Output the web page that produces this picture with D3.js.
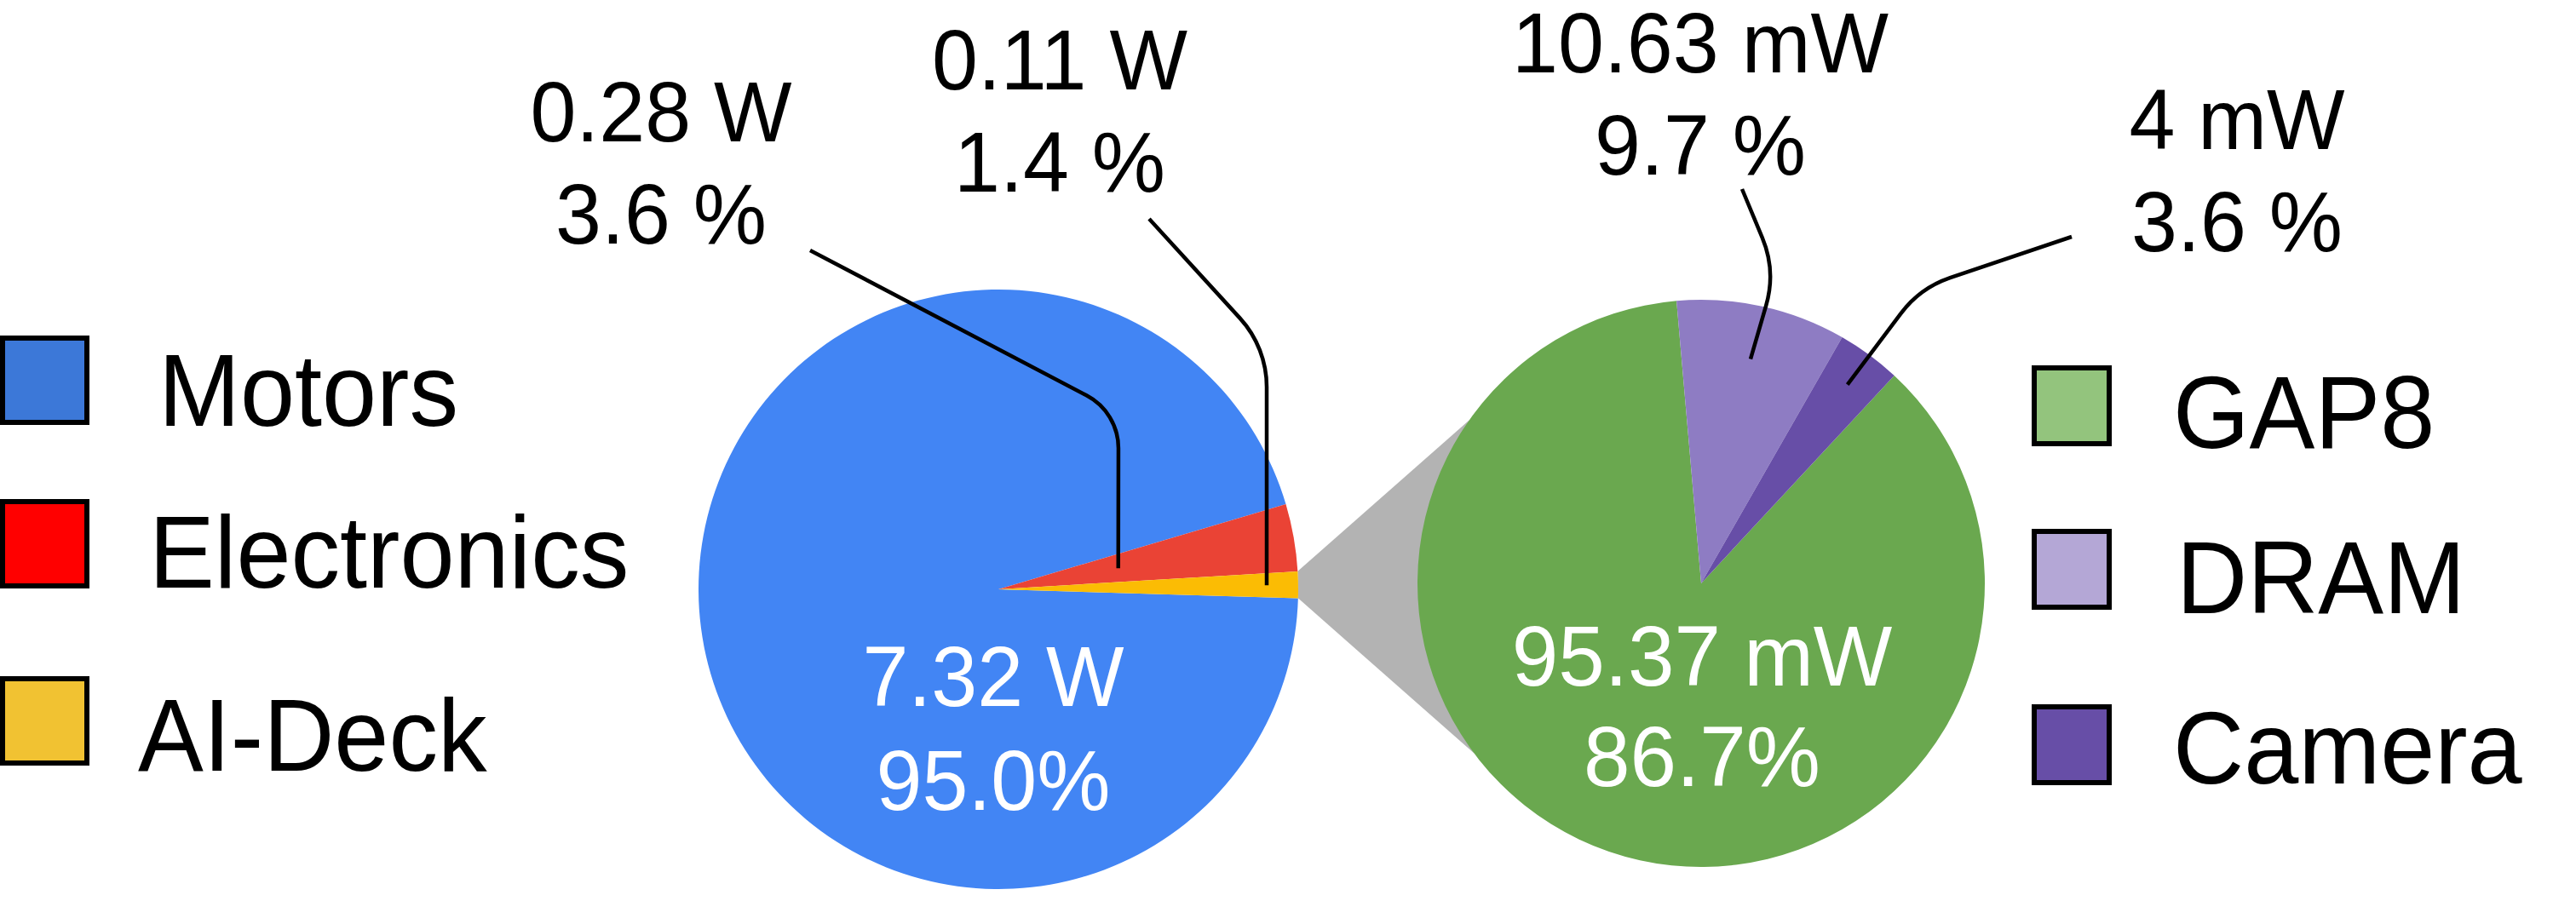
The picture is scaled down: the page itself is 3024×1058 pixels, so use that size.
<!DOCTYPE html>
<html>
<head>
<meta charset="utf-8">
<script src="https://cdn.jsdelivr.net/npm/d3@7"></script>
<style>
  body { margin: 0; background: #fff; }
  text { font-family: "Liberation Sans", Arial, Helvetica, sans-serif; }
</style>
</head>
<body>
<script>
// power split of the drone (W)
var mainNames = ["Motors", "Electronics", "AI-Deck"];
var mainPower = [7.32, 0.28, 0.11];
var mainPct = [95.0, 3.6, 1.4];
var mainPieColors = ["#4285f4", "#ea4335", "#fbbc04"];
var mainKeyColors = ["#3c78d8", "#ff0000", "#f1c232"];

// power split of the AI-Deck (mW)
var deckNames = ["GAP8", "DRAM", "Camera"];
var deckPower = [95.37, 10.63, 4];
var deckPct = [86.7, 9.7, 3.6];
var deckPieColors = ["#6aa84f", "#8e7cc3", "#674ea7"];
var deckKeyColors = ["#93c47d", "#b4a7d6", "#674ea7"];

var svgWidth = 3024;
var svgHeight = 1058;
var deg = Math.PI / 180;

var svg = d3.select("body")
    .append("svg")
    .attr("width", svgWidth)
    .attr("height", svgHeight);

// pie layouts
var left = { cx: 1172, cy: 692, r: 352, start: 91.7 * deg };
var right = { cx: 1997, cy: 685, r: 333, start: 42.9 * deg };

var mainArcs = d3.pie().sort(null).value(d => d)
    .startAngle(left.start).endAngle(left.start + 2 * Math.PI)(mainPower);
var deckArcs = d3.pie().sort(null).value(d => d)
    .startAngle(right.start).endAngle(right.start + 2 * Math.PI)(deckPower);

function polar(p, ang, rad) {
    return [p.cx + rad * Math.sin(ang), p.cy - rad * Math.cos(ang)];
}

// gray wedge from the AI-Deck slice to the second pie
var deckSlice = mainArcs[2];
var p1 = polar(left, deckSlice.startAngle, left.r);
var p2 = polar(left, deckSlice.endAngle, left.r);
var spread = 41.4 * deg;

function hitCircle(p, a, c) {
    var ux = Math.cos(a), uy = Math.sin(a);
    var dx = p[0] - c.cx, dy = p[1] - c.cy;
    var b = ux * dx + uy * dy;
    var cc = dx * dx + dy * dy - c.r * c.r;
    var t = -b - Math.sqrt(b * b - cc);
    return [p[0] + t * ux, p[1] + t * uy];
}
var t1 = hitCircle(p1, -spread, right);
var t2 = hitCircle(p2, spread, right);

svg.append("path")
    .attr("d", d3.line()([p1, t1, [right.cx, right.cy], t2, p2]) + "Z")
    .attr("fill", "#b3b3b3");

var arc = d3.arc().innerRadius(0);

svg.append("g")
    .attr("transform", `translate(${left.cx}, ${left.cy})`)
    .selectAll("path")
    .data(mainArcs)
    .enter()
    .append("path")
    .attr("d", d => arc.outerRadius(left.r)(d))
    .attr("fill", (d, i) => mainPieColors[i]);

svg.append("g")
    .attr("transform", `translate(${right.cx}, ${right.cy})`)
    .selectAll("path")
    .data(deckArcs)
    .enter()
    .append("path")
    .attr("d", d => arc.outerRadius(right.r)(d))
    .attr("fill", (d, i) => deckPieColors[i]);

// text helper, the original font is a little narrower than Arial
function label(x, y, txt, size, fill, sx) {
    svg.append("text")
        .attr("transform", `translate(${x}, ${y}) scale(${sx}, 1)`)
        .attr("text-anchor", "middle")
        .attr("font-size", size + "px")
        .attr("fill", fill)
        .text(txt);
}

// big slices: labels inside
label(left.cx - 6, 829, mainPower[0] + " W", 100, "#fff", 0.97);
label(left.cx - 6, 951, mainPct[0].toFixed(1) + "%", 100, "#fff", 0.97);
label(right.cx + 1, 805, deckPower[0] + " mW", 100, "#fff", 0.98);
label(right.cx + 1, 923, deckPct[0].toFixed(1) + "%", 100, "#fff", 0.98);

// small slices: labels outside with leader lines
var callouts = [
    { pie: left, arc: mainArcs[1], txt: mainPower[1] + " W", pct: mainPct[1],
      x: 776, y: 166, from: [951, 294], elbow: [1313, 484], bend: 70, depth: 0.406 },
    { pie: left, arc: mainArcs[2], txt: mainPower[2] + " W", pct: mainPct[2],
      x: 1244, y: 105, from: [1349, 257], elbow: [1487, 408], bend: 120, depth: 0.895 },
    { pie: right, arc: deckArcs[1], txt: deckPower[1] + " mW", pct: deckPct[1],
      x: 1996, y: 85, from: [2045, 222], elbow: [2085, 318], bend: 120, depth: 0.81 },
    { pie: right, arc: deckArcs[2], txt: deckPower[2] + " mW", pct: deckPct[2],
      x: 2626, y: 175, from: [2432, 278], elbow: [2254, 338], bend: 120, depth: 0.87 }
];

callouts.forEach(function (c) {
    label(c.x, c.y, c.txt, 100, "#000", 0.97);
    label(c.x, c.y + 120, c.pct.toFixed(1) + " %", 100, "#000", 0.97);

    var mid = (c.arc.startAngle + c.arc.endAngle) / 2;
    var end = polar(c.pie, mid, c.pie.r * c.depth);
    var p = d3.path();
    p.moveTo(c.from[0], c.from[1]);
    p.arcTo(c.elbow[0], c.elbow[1], end[0], end[1], c.bend);
    p.lineTo(end[0], end[1]);
    svg.append("path")
        .attr("d", p.toString())
        .attr("fill", "none")
        .attr("stroke", "#000")
        .attr("stroke-width", 4.5);
});

// legends
var leftKeys = [
    { y: 397, tx: 186, ty: 500 },
    { y: 589, tx: 175, ty: 690 },
    { y: 797, tx: 162, ty: 905 }
];
var rightKeys = [
    { y: 432, tx: 2551, ty: 526 },
    { y: 624, tx: 2555, ty: 720 },
    { y: 830, tx: 2551, ty: 920 }
];

mainNames.forEach(function (name, i) {
    var k = leftKeys[i];
    svg.append("rect")
        .attr("x", 3).attr("y", k.y)
        .attr("width", 99).attr("height", 99)
        .attr("fill", mainKeyColors[i])
        .attr("stroke", "#000")
        .attr("stroke-width", 6);
    svg.append("text")
        .attr("transform", `translate(${k.tx}, ${k.ty}) scale(0.96, 1)`)
        .attr("font-size", "120px")
        .text(name);
});

deckNames.forEach(function (name, i) {
    var k = rightKeys[i];
    svg.append("rect")
        .attr("x", 2388).attr("y", k.y)
        .attr("width", 88).attr("height", 89)
        .attr("fill", deckKeyColors[i])
        .attr("stroke", "#000")
        .attr("stroke-width", 6);
    svg.append("text")
        .attr("transform", `translate(${k.tx}, ${k.ty}) scale(0.96, 1)`)
        .attr("font-size", "120px")
        .text(name);
});
</script>
</body>
</html>
